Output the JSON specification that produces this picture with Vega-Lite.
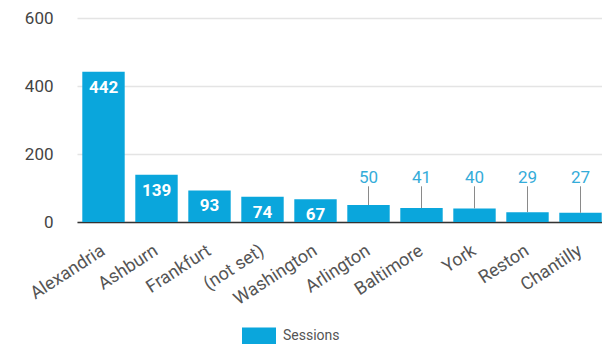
{
  "$schema": "https://vega.github.io/schema/vega-lite/v6.json",
  "width": 525,
  "height": 204,
  "autosize": "none",
  "padding": {"left": 77, "top": 18, "right": 0, "bottom": 122},
  "background": "white",
  "config": {"font": "Roboto", "view": {"stroke": null}},
  "data": {
    "values": [
      {"city": "Alexandria", "Sessions": 442},
      {"city": "Ashburn", "Sessions": 139},
      {"city": "Frankfurt", "Sessions": 93},
      {"city": "(not set)", "Sessions": 74},
      {"city": "Washington", "Sessions": 67},
      {"city": "Arlington", "Sessions": 50},
      {"city": "Baltimore", "Sessions": 41},
      {"city": "York", "Sessions": 40},
      {"city": "Reston", "Sessions": 29},
      {"city": "Chantilly", "Sessions": 27}
    ]
  },
  "encoding": {
    "x": {
      "field": "city",
      "type": "nominal",
      "sort": null,
      "scale": {"range": [0, 530], "paddingInner": 0.2, "paddingOuter": 0.1},
      "axis": {
        "title": null,
        "labelAngle": -33,
        "labelAlign": "right",
        "labelBaseline": "middle",
        "labelFontSize": 18,
        "labelColor": "#555555",
        "ticks": false,
        "domainColor": "#333333",
        "domainWidth": 1.5,
        "labelPadding": 27,
        "grid": false
      }
    }
  },
  "layer": [
    {
      "mark": {"type": "bar"},
      "encoding": {
        "y": {
          "field": "Sessions",
          "type": "quantitative",
          "scale": {"domain": [0, 600], "nice": false},
          "axis": {
            "title": null,
            "values": [0, 100, 200, 300, 400, 500, 600],
            "labelExpr": "datum.value % 200 == 0 ? datum.label : ''",
            "grid": true,
            "gridColor": "#e4e4e4",
            "gridWidth": 1.5,
            "domain": false,
            "ticks": false,
            "labelPadding": 24,
            "labelFontSize": 17,
            "labelColor": "#444444"
          }
        },
        "color": {
          "datum": "Sessions",
          "type": "nominal",
          "scale": {"range": ["#0aa6dc"]},
          "legend": {
            "orient": "none",
            "legendX": 165,
            "legendY": 301,
            "title": null,
            "symbolType": "M-1,-0.5H1V0.5H-1Z",
            "symbolSize": 1156,
            "symbolStrokeWidth": 0,
            "labelFontSize": 14,
            "labelColor": "#555555",
            "labelOffset": 7
          }
        }
      }
    },
    {
      "transform": [{"filter": "datum.Sessions >= 60"}],
      "mark": {"type": "text", "baseline": "middle", "dy": 16, "color": "white", "fontWeight": "bold", "fontSize": 17},
      "encoding": {
        "y": {"field": "Sessions", "type": "quantitative"},
        "text": {"field": "Sessions", "type": "quantitative"}
      }
    },
    {
      "transform": [{"filter": "datum.Sessions < 60"}],
      "mark": {"type": "rule", "color": "#8a8a8a", "strokeWidth": 1},
      "encoding": {
        "y": {"field": "Sessions", "type": "quantitative"},
        "y2": {"datum": 105}
      }
    },
    {
      "transform": [{"filter": "datum.Sessions < 60"}],
      "mark": {"type": "text", "baseline": "middle", "color": "#35acd9", "fontSize": 17},
      "encoding": {
        "y": {"datum": 128, "type": "quantitative"},
        "text": {"field": "Sessions", "type": "quantitative"}
      }
    }
  ]
}
